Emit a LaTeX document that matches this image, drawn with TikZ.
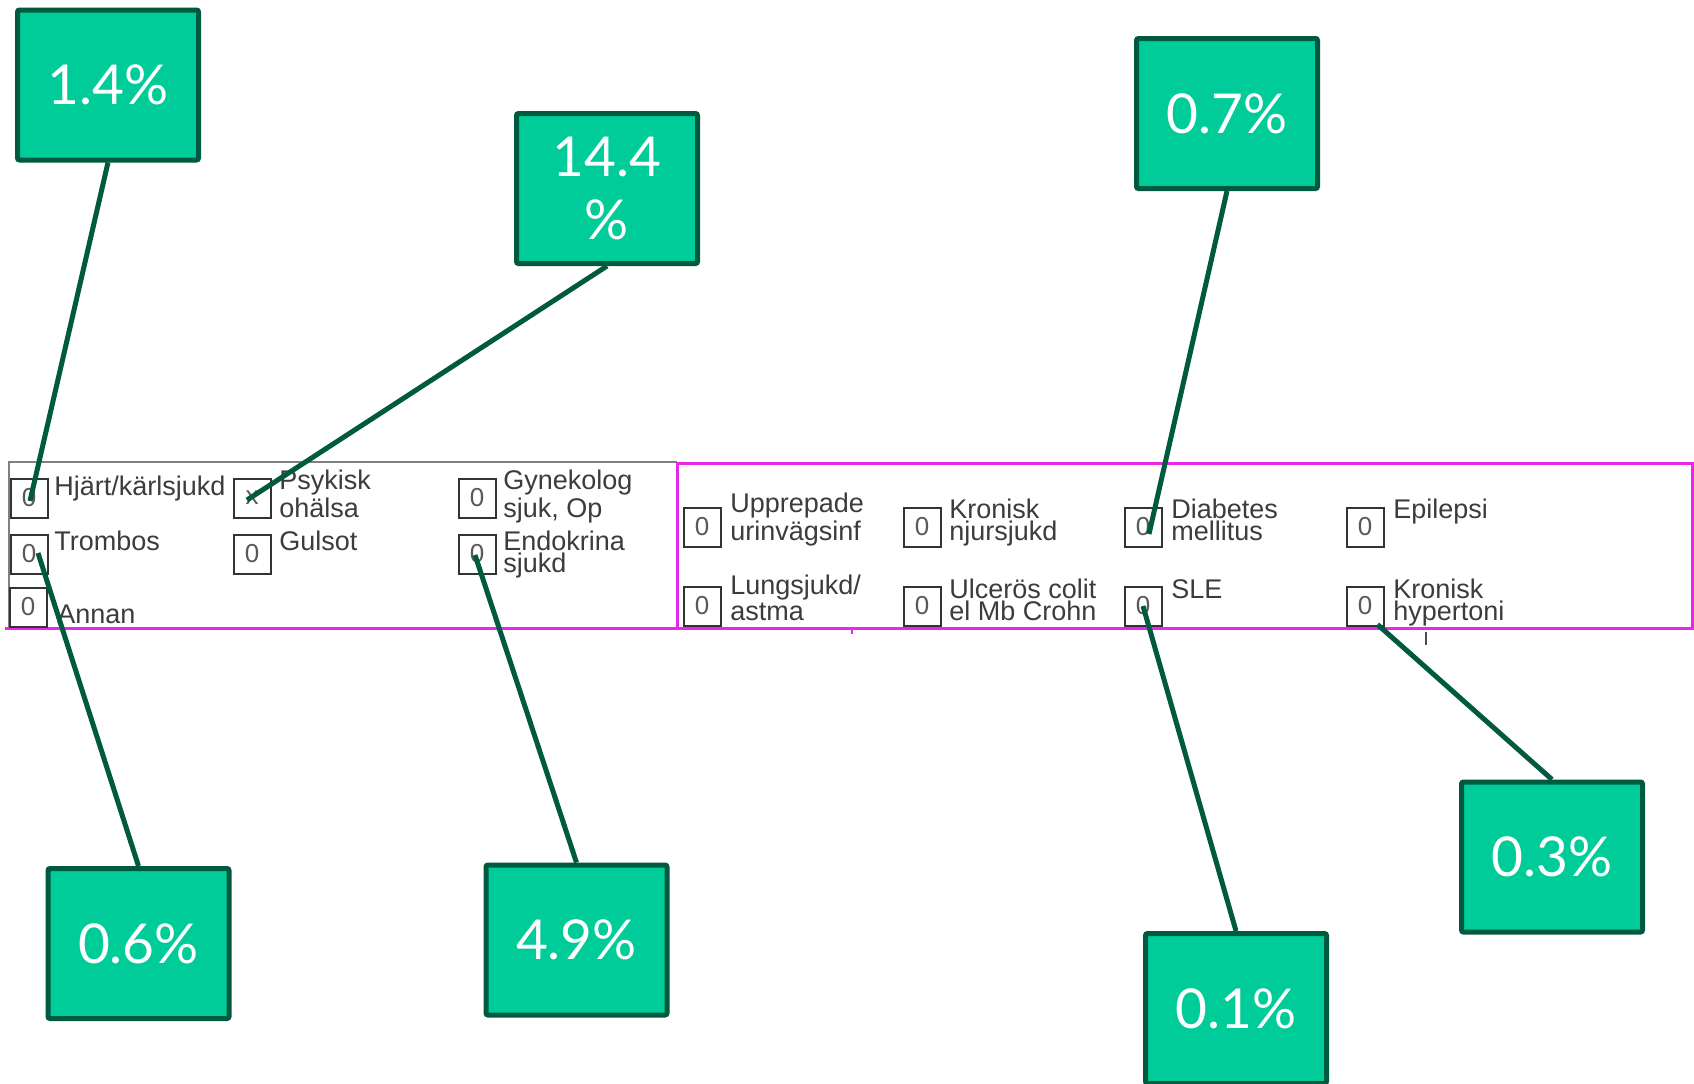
\documentclass[tikz,border=0pt]{standalone}
\usepackage{fontspec}
\setmainfont{Liberation Sans}
\newfontfamily\pctfont{Lato}
\definecolor{callfill}{RGB}{0,204,153}
\definecolor{calldraw}{RGB}{0,90,64}
\definecolor{frmmag}{RGB}{232,40,232}
\definecolor{frmtxt}{RGB}{60,60,60}
\begin{document}
\begin{tikzpicture}[x=0.5pt,y=-0.5pt,
 callout/.style={draw=calldraw, fill=callfill, line width=2.5pt, rounded corners=1pt,
   minimum width=90.5pt, minimum height=75pt, inner sep=0pt, text=white,
   font=\pctfont\fontsize{27.5}{31.5}\selectfont, align=center},
 chk/.style={draw=black!80, line width=1pt, minimum width=18.5pt, minimum height=19.5pt,
   inner sep=0pt, font=\fontsize{13}{13}\selectfont, text=black!65},
 lbl/.style={anchor=base west, inner sep=0pt, align=left, text=frmtxt,
   font=\fontsize{13.5}{11}\selectfont},
 conn/.style={draw=calldraw, line width=2.5pt}]
\clip (0,0) rectangle (1694,1083);
% form frame
\draw[gray, line width=1pt] (9,628) -- (9,462) -- (677,462);
\draw[frmmag, line width=1.5pt] (677,463) rectangle (1692,628);
\draw[frmmag, line width=1.5pt] (5,628) -- (1692,628);
\draw[frmmag, line width=1pt] (852,628) -- (852,634);
\draw[black!70, line width=1pt] (1426,632) -- (1426,645);
% checkboxes left
\node[chk] (hj) at (29,498) {0};
\node[chk] (psy) at (252,498) {x};
\node[chk] (gyn) at (477,498) {0};
\node[chk] (tro) at (29,554) {0};
\node[chk] (gul) at (252,554) {0};
\node[chk] (endo) at (477,554) {0};
\node[chk] (ann) at (28,607) {0};
% checkboxes right
\node[chk] (upp) at (702,527) {0};
\node[chk] (kro) at (922,527) {0};
\node[chk] (dm) at (1143,527) {0};
\node[chk] (epi) at (1365,527) {0};
\node[chk] (lung) at (702,606) {0};
\node[chk] (ulc) at (922,606) {0};
\node[chk] (sle) at (1143,606) {0};
\node[chk] (hyp) at (1365,606) {0};
% labels (two-line labels are placed by the baseline of their last line)
\node[lbl] (l1) at (54,495) {Hjärt/kärlsjukd};
\node[lbl] (l2) at (279,517) {Psykisk\\ohälsa};
\node[lbl] (l3) at (503,517) {Gynekolog\\sjuk, Op};
\node[lbl] (l4) at (54,550) {Trombos};
\node[lbl] (l5) at (279,550) {Gulsot};
\node[lbl] (l6) at (503,572) {Endokrina\\sjukd};
\node[lbl] (l7) at (57,623) {Annan};
\node[lbl] (l8) at (730,540) {Upprepade\\urinvägsinf};
\node[lbl] (l9) at (949,540) {Kronisk\\njursjukd};
\node[lbl] (l10) at (1171,540) {Diabetes\\mellitus};
\node[lbl] (l11) at (1393,518) {Epilepsi};
\node[lbl] (l12) at (730,620) {Lungsjukd/\\astma};
\node[lbl] (l13) at (949,620) {Ulcerös colit\\el Mb Crohn};
\node[lbl] (l14) at (1171,598) {SLE};
\node[lbl] (l15) at (1393,620) {Kronisk\\hypertoni};
% callouts
\node[callout] (b14) at (108,85) {1.4\%};
\node[callout] (b144) at (607,188.5) {14.4\\\%};
\node[callout] (b07) at (1227,113.5) {0.7\%};
\node[callout] (b06) at (138.5,943.5) {0.6\%};
\node[callout] (b49) at (576.5,940) {4.9\%};
\node[callout] (b01) at (1236,1008.5) {0.1\%};
\node[callout] (b03) at (1552,857) {0.3\%};
% connectors
\draw[conn] (b14.south) -- ([shift={(1,3)}]hj.center);
\draw[conn] (b144.south) -- ([shift={(-5,2)}]psy.center);
\draw[conn] (b07.south) -- ([shift={(6,7)}]dm.center);
\draw[conn] (b06.north) -- ([shift={(9,-1)}]tro.center);
\draw[conn] (b49.north) -- ([shift={(-2,1)}]endo.center);
\draw[conn] (b01.north) -- (sle.center);
\draw[conn] (b03.north) -- ([shift={(-7,-2)}]hyp.south east);
\end{tikzpicture}
\end{document}
